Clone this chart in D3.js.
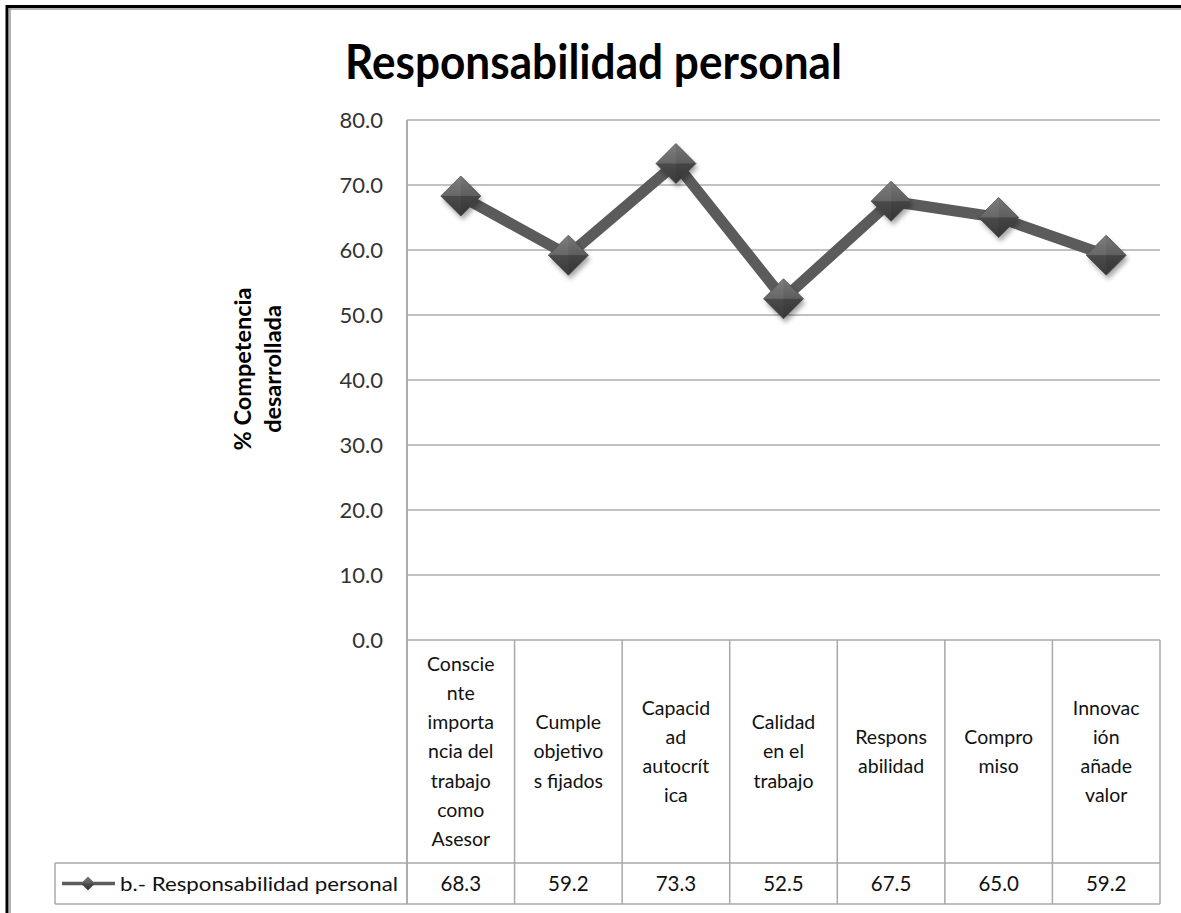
<!DOCTYPE html>
<html>
<head>
<meta charset="utf-8">
<script src="https://cdn.jsdelivr.net/npm/d3@7/dist/d3.min.js"></script>
<style>
  html, body { margin: 0; padding: 0; background: #fff; }
  svg { display: block; }
</style>
</head>
<body>
<svg id="chart" width="1181" height="913"></svg>
<script>
// Chart data
const title = "Responsabilidad personal";
const yTitleLines = ["% Competencia", "desarrollada"];
const seriesName = "b.- Responsabilidad personal";
const categories = [
  ["Conscie", "nte", "importa", "ncia del", "trabajo", "como", "Asesor"],
  ["Cumple", "objetivo", "s fijados"],
  ["Capacid", "ad", "autocrít", "ica"],
  ["Calidad", "en el", "trabajo"],
  ["Respons", "abilidad"],
  ["Compro", "miso"],
  ["Innovac", "ión", "añade", "valor"]
];
const values = [68.3, 59.2, 73.3, 52.5, 67.5, 65.0, 59.2];
const yTicks = [0, 10, 20, 30, 40, 50, 60, 70, 80];

// Layout
const plotLeft = 407, plotRight = 1160, plotTop = 120, plotBottom = 640;
const tableHeaderBottom = 863, tableBottom = 904, legendLeft = 55;
const FONT = "Lato, 'Open Sans', sans-serif";
const gridColor = "#adadad";
const lineColor = "#5b5b5b";

const svg = d3.select("#chart");
const defs = svg.append("defs");

// Marker shading
const grad = defs.append("linearGradient").attr("id", "diamondFill")
  .attr("x1", 0).attr("y1", 0).attr("x2", 0).attr("y2", 1);
grad.append("stop").attr("offset", "0%").attr("stop-color", "#777");
grad.append("stop").attr("offset", "49%").attr("stop-color", "#5e5e5e");
grad.append("stop").attr("offset", "51%").attr("stop-color", "#4a4a4a");
grad.append("stop").attr("offset", "100%").attr("stop-color", "#3a3a3a");
const shadow = defs.append("filter").attr("id", "shadow")
  .attr("x", "-50%").attr("y", "-50%").attr("width", "200%").attr("height", "200%");
shadow.append("feGaussianBlur").attr("stdDeviation", 2.5);

// Frame
svg.append("rect").attr("x", 0).attr("y", 0).attr("width", 1181).attr("height", 913).attr("fill", "#fff");
svg.append("line").attr("x1", 6).attr("x2", 1181).attr("y1", 6.5).attr("y2", 6.5)
  .attr("stroke", "#000").attr("stroke-width", 3);
svg.append("line").attr("x1", 9).attr("x2", 1181).attr("y1", 9).attr("y2", 9)
  .attr("stroke", "#9a9a9a").attr("stroke-width", 1.5);
svg.append("line").attr("x1", 7).attr("x2", 7).attr("y1", 5).attr("y2", 913)
  .attr("stroke", "#000").attr("stroke-width", 3);
svg.append("line").attr("x1", 10).attr("x2", 10).attr("y1", 8).attr("y2", 913)
  .attr("stroke", "#9a9a9a").attr("stroke-width", 1.5);

// Scales
const x = d3.scaleBand().domain(d3.range(categories.length)).range([plotLeft, plotRight]);
const y = d3.scaleLinear().domain([0, 80]).range([plotBottom, plotTop]);

// Title
svg.append("text").attr("x", 593.5).attr("y", 79)
  .attr("text-anchor", "middle")
  .attr("font-family", FONT).attr("font-weight", "bold").attr("font-size", 47)
  .attr("textLength", 497).attr("lengthAdjust", "spacingAndGlyphs")
  .attr("fill", "#000").text(title);

// Gridlines
svg.append("g").attr("class", "grid")
  .selectAll("line").data(yTicks.slice(1)).join("line")
  .attr("x1", plotLeft).attr("x2", plotRight)
  .attr("y1", d => y(d)).attr("y2", d => y(d))
  .attr("stroke", gridColor).attr("stroke-width", 1.5);

// Y axis
const yAxis = d3.axisLeft(y).tickValues(yTicks).tickFormat(d3.format(".1f")).tickSize(0).tickPadding(24);
const gy = svg.append("g").attr("transform", `translate(${plotLeft},0)`).call(yAxis);
gy.select(".domain").remove();
gy.selectAll("text").attr("font-family", FONT).attr("font-size", 22).attr("fill", "#333");

// Axis line through the table
svg.append("line").attr("x1", plotLeft).attr("x2", plotLeft).attr("y1", plotTop).attr("y2", tableBottom)
  .attr("stroke", gridColor).attr("stroke-width", 2);

// Y axis title
const yt = svg.append("text")
  .attr("transform", `translate(251,369) rotate(-90)`)
  .attr("text-anchor", "middle").attr("font-family", FONT).attr("font-weight", "bold")
  .attr("font-size", 23.5).attr("fill", "#000");
yTitleLines.forEach((t, i) => {
  yt.append("tspan").attr("x", 0).attr("dy", i === 0 ? 0 : 30).text(t);
});

// Data table
const table = svg.append("g").attr("class", "table");
const tableStroke = "#a8a8a8";
// horizontal rules
[[plotLeft, plotBottom], [legendLeft, tableHeaderBottom], [legendLeft, tableBottom]].forEach(([x0, yy]) => {
  table.append("line").attr("x1", x0).attr("x2", plotRight).attr("y1", yy).attr("y2", yy)
    .attr("stroke", tableStroke).attr("stroke-width", 1.5);
});
// vertical rules
x.domain().forEach(i => {
  table.append("line").attr("x1", x(i) + x.bandwidth()).attr("x2", x(i) + x.bandwidth())
    .attr("y1", plotBottom).attr("y2", tableBottom)
    .attr("stroke", tableStroke).attr("stroke-width", 1.5);
});
table.append("line").attr("x1", legendLeft).attr("x2", legendLeft)
  .attr("y1", tableHeaderBottom).attr("y2", tableBottom)
  .attr("stroke", tableStroke).attr("stroke-width", 1.5);

// category headers
const lineH = 29.2;
const headerMid = (plotBottom + tableHeaderBottom) / 2;
categories.forEach((lines, i) => {
  const cx = x(i) + x.bandwidth() / 2;
  const startY = headerMid - (lines.length - 1) * lineH / 2;
  const t = table.append("text").attr("text-anchor", "middle")
    .attr("font-family", FONT).attr("font-size", 19.5).attr("fill", "#111");
  lines.forEach((s, j) => {
    t.append("tspan").attr("x", cx).attr("y", startY + j * lineH).attr("dy", "0.35em").text(s);
  });
});
// value row
table.selectAll("text.val").data(values).join("text").attr("class", "val")
  .attr("x", (d, i) => x(i) + x.bandwidth() / 2)
  .attr("y", (tableHeaderBottom + tableBottom) / 2).attr("dy", "0.35em")
  .attr("text-anchor", "middle").attr("font-family", FONT).attr("font-size", 20.5).attr("fill", "#111")
  .text(d => d3.format(".1f")(d));

// Legend key in the table
const ly = (tableHeaderBottom + tableBottom) / 2;
table.append("line").attr("x1", 62).attr("x2", 115).attr("y1", ly).attr("y2", ly)
  .attr("stroke", lineColor).attr("stroke-width", 3.5);
table.append("path").attr("d", "M0,-7L7,0L0,7L-7,0Z").attr("transform", `translate(88,${ly})`)
  .attr("fill", "url(#diamondFill)");
table.append("text").attr("x", 120).attr("y", ly).attr("dy", "0.35em")
  .attr("font-family", FONT).attr("font-size", 20).attr("fill", "#111")
  .attr("textLength", 278).attr("lengthAdjust", "spacingAndGlyphs")
  .text(seriesName);

// Series line
const cxOf = i => x(i) + x.bandwidth() / 2;
const line = d3.line().x((d, i) => cxOf(i)).y(d => y(d));
svg.append("path").datum(values).attr("d", line)
  .attr("fill", "none").attr("stroke", lineColor).attr("stroke-width", 11)
  .attr("stroke-linejoin", "round");

// Markers
const diamond = "M0,-20L20,0L0,20L-20,0Z";
svg.append("g").selectAll("path").data(values).join("path")
  .attr("d", diamond).attr("transform", (d, i) => `translate(${cxOf(i) + 2},${y(d) + 4})`)
  .attr("fill", "#000").attr("opacity", 0.35).attr("filter", "url(#shadow)");
const mk = svg.append("g").selectAll("g").data(values).join("g")
  .attr("transform", (d, i) => `translate(${cxOf(i)},${y(d)})`);
mk.append("path").attr("d", diamond).attr("fill", "url(#diamondFill)")
  .attr("stroke", "#4a4a4a").attr("stroke-width", 0.8);
// facet highlights
mk.append("path").attr("d", "M0,-20L-20,0L0,0Z").attr("fill", "#fff").attr("opacity", 0.06);
mk.append("path").attr("d", "M0,20L20,0L0,0Z").attr("fill", "#000").attr("opacity", 0.08);
</script>
</body>
</html>
